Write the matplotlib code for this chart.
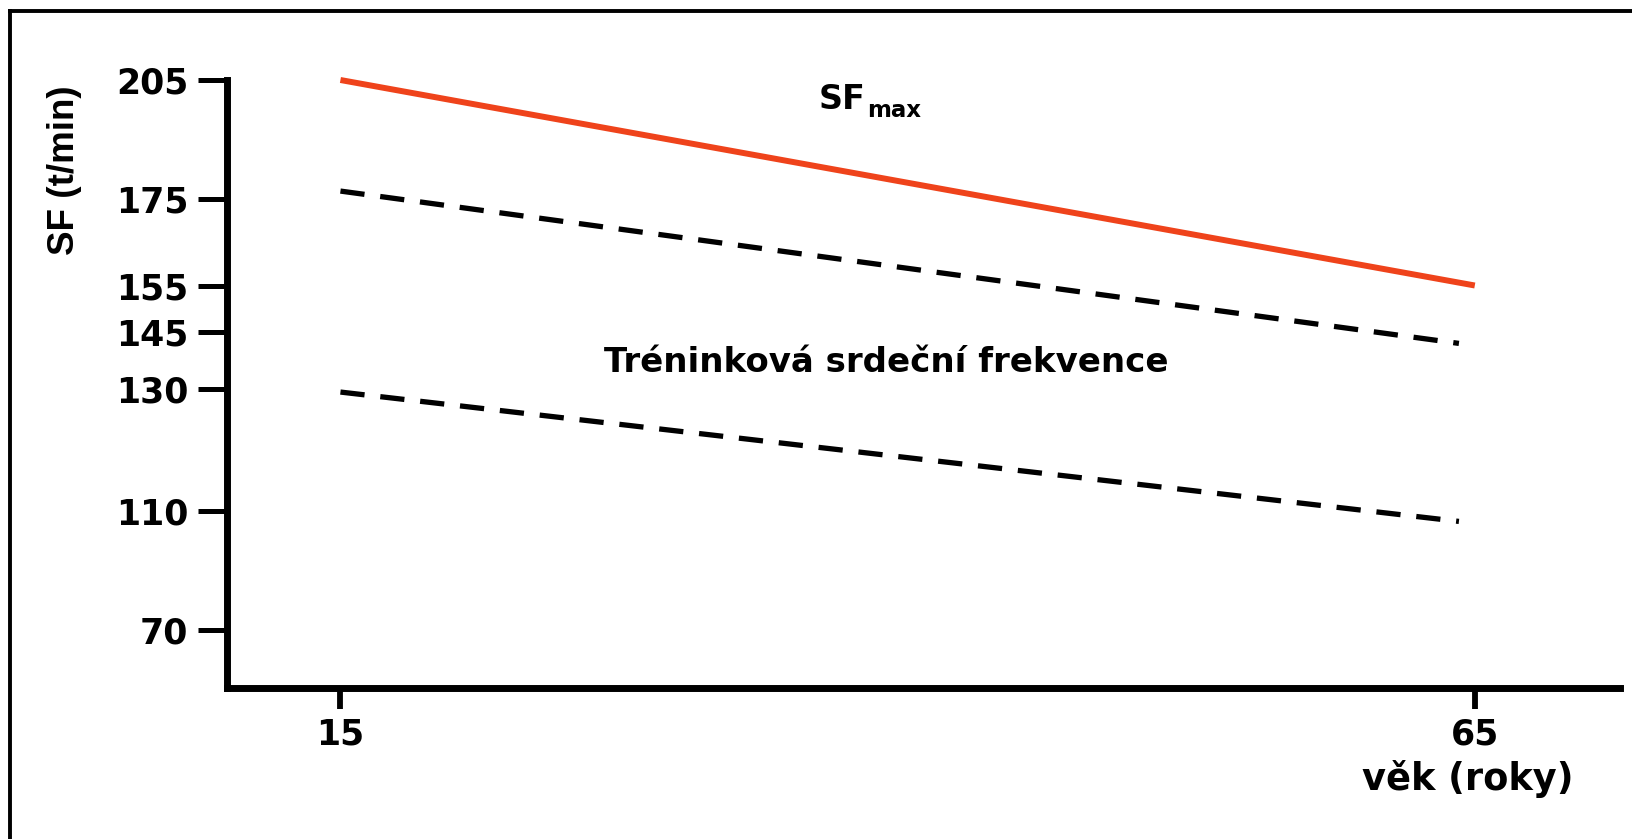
import numpy as np
import matplotlib
matplotlib.use("Agg")
import matplotlib.pyplot as plt
from matplotlib.lines import Line2D
from matplotlib import font_manager

plt.rcParams['font.family'] = ['DejaVu Sans']
plt.rcParams['font.weight'] = 'bold'

# ---- data ----
age = [15, 65]
sf_max = [205, 155]
train_age = [15, 64.3]
train_upper = [177, 142]
train_lower = [129.5, 106.5]

x_ticks = [15, 65]
y_ticks = [205, 175, 155, 145, 130, 110, 70]

# schematic (non-linear) y axis: value -> height above bottom (px)
scale_vals = [50, 70, 110, 130, 145, 155, 175, 205]
scale_pos = [0, 58, 177, 299, 356, 402.5, 489, 608]

W, H = 1633, 839
fig = plt.figure(figsize=(W / 100, H / 100), dpi=100)
fig.patch.set_facecolor('white')

def fx(x):
    return x / W

def fy(y):
    return 1 - y / H

ax = fig.add_axes([fx(227), fy(688), (1620 - 227) / W, (688 - 80) / H])

fwd = lambda v: np.interp(v, scale_vals, scale_pos)
inv = lambda p: np.interp(p, scale_pos, scale_vals)
ax.set_yscale('function', functions=(fwd, inv))
ax.set_ylim(50, 205)
ax.set_xlim(10.0, 71.4)

ax.plot(age, sf_max, color='#EF431B', lw=4.3, solid_capstyle='butt', clip_on=False)
ax.plot(train_age, train_upper, color='black', lw=3.8, linestyle=(0, (4.6, 3.0)), clip_on=False)
ax.plot(train_age, train_lower, color='black', lw=3.8, linestyle=(0, (4.6, 3.0)), clip_on=False)

for s in ['top', 'right']:
    ax.spines[s].set_visible(False)
for s in ['left', 'bottom']:
    ax.spines[s].set_linewidth(5)
    ax.spines[s].set_color('black')

ax.set_yticks(y_ticks)
ax.set_yticklabels([str(v) for v in y_ticks])
ax.set_xticks(x_ticks)
ax.set_xticklabels([str(v) for v in x_ticks])
ax.minorticks_off()
ax.tick_params(axis='y', direction='out', length=21, width=3.6, pad=7, labelsize=25)
ax.tick_params(axis='x', direction='out', length=15, width=4.2, pad=6, labelsize=25)
for lab in ax.get_xticklabels() + ax.get_yticklabels():
    lab.set_fontweight('bold')

# SF_max label
fig.text(fx(819), fy(109), 'SF', ha='left', va='baseline', fontsize=24, fontweight='bold')
fig.text(fx(867), fy(117), 'max', ha='left', va='baseline', fontsize=16.5, fontweight='bold')

fig.text(fx(886), fy(362), 'Tréninková srdeční frekvence', ha='center', va='center',
         fontsize=24.5, fontweight='bold')

fig.text(fx(1468), fy(779), 'věk (roky)', ha='center', va='center', fontsize=26.5, fontweight='bold')

names = {f.name for f in font_manager.fontManager.ttflist}
if 'Liberation Sans Narrow' in names:
    yl_family, yl_size = ['Liberation Sans Narrow', 'DejaVu Sans'], 31
else:
    yl_family, yl_size = ['Liberation Sans', 'DejaVu Sans'], 26.5
fig.text(fx(65), fy(170), 'SF (t/min)', ha='center', va='center', rotation=90,
         fontsize=yl_size, fontweight='bold', family=yl_family)

# outer frame (top and left edges)
fig.add_artist(Line2D([fx(10), 1], [fy(11), fy(11)], color='black', lw=2.8, transform=fig.transFigure))
fig.add_artist(Line2D([fx(10), fx(10)], [fy(11), 0], color='black', lw=2.8, transform=fig.transFigure))

fig.savefig('out.png', dpi=100, facecolor='white')
